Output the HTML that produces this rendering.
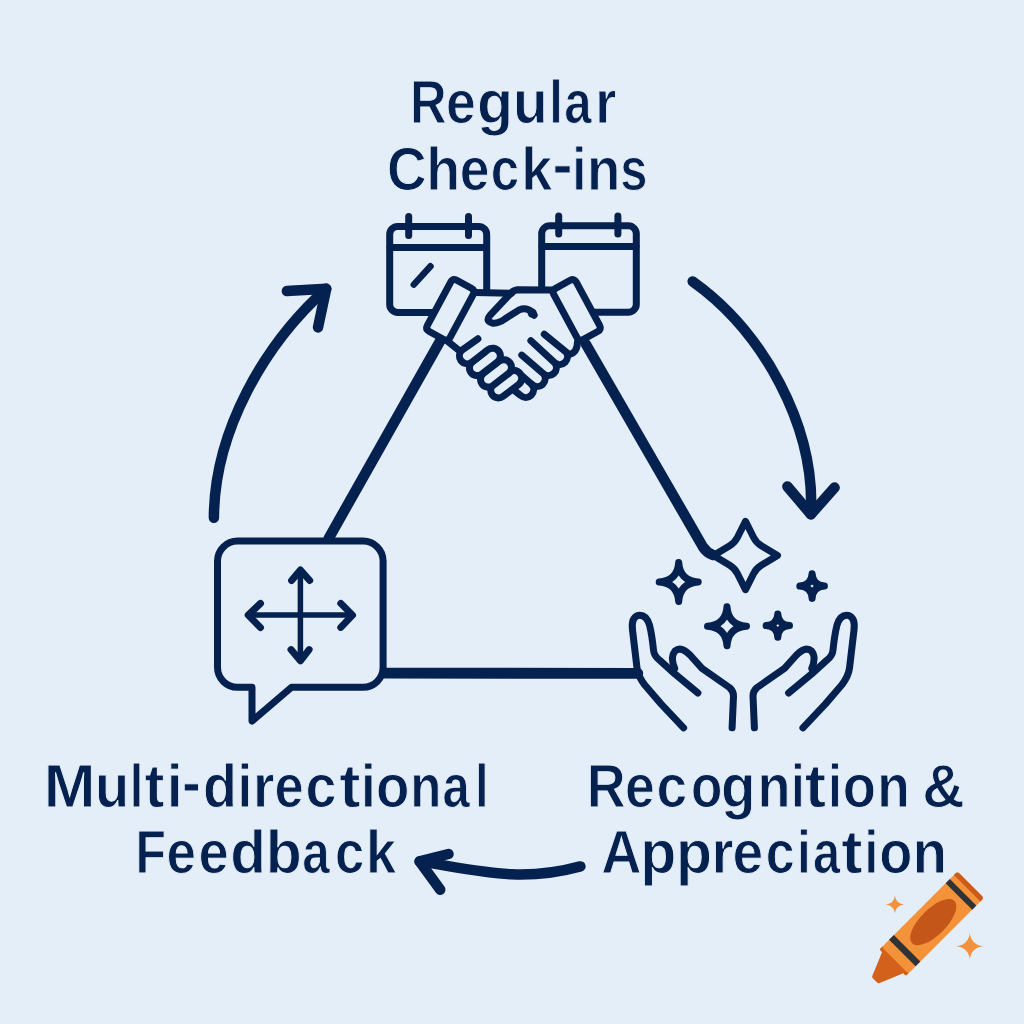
<!DOCTYPE html>
<html>
<head>
<meta charset="utf-8">
<style>
html,body{margin:0;padding:0;width:1024px;height:1024px;overflow:hidden;background:#E4EEF8;}
svg{display:block;}
text{font-family:"Liberation Sans",sans-serif;font-weight:bold;fill:#05214F;stroke:#E4EEF8;stroke-width:1px;}
</style>
</head>
<body>
<svg width="1024" height="1024" viewBox="0 0 1024 1024">
<rect width="1024" height="1024" fill="#E4EEF8"/>
<g fill="none" stroke="#05214F" stroke-linecap="round" stroke-linejoin="round">
  <!-- calendars -->
  <g stroke-width="7">
    <rect x="389.7" y="226.4" width="97" height="86" rx="8"/>
    <line x1="390" y1="247.6" x2="486" y2="247.6"/>
    <line x1="408.7" y1="216.5" x2="408.7" y2="235.5" stroke-width="7"/>
    <line x1="468.5" y1="216.5" x2="468.5" y2="235.5" stroke-width="7"/>
    <line x1="413.8" y1="284.6" x2="430.5" y2="266.3" stroke-width="6.5"/>
    <rect x="541.7" y="225.8" width="94.6" height="86.4" rx="8"/>
    <line x1="542" y1="246.6" x2="636" y2="246.6"/>
    <line x1="558.7" y1="216" x2="558.7" y2="234" stroke-width="7"/>
    <line x1="617.9" y1="216" x2="617.9" y2="234" stroke-width="7"/>
  </g>

  <!-- triangle lines -->
  <line x1="441.5" y1="338.6" x2="328.7" y2="538.3" stroke-width="10.5"/>
  <path d="M585.8,344 L703,547 Q707,553 713,555" stroke-width="10.5"/>
  <line x1="383" y1="673.2" x2="637.8" y2="673.3" stroke-width="10.8"/>

  <!-- handshake -->
  <g stroke-width="7" fill="#E4EEF8">
    <path d="M475.4,291 L551.6,291 L579.1,341.6 L570,362 L540,396 L505,398 L447.9,341.6 Z" stroke="none"/>
    <!-- left cuff -->
    <path d="M456.8,280.3 L471.4,288.3 Q475.4,290.4 473.3,294.4 L450.0,337.6 Q447.9,341.6 443.9,339.5 L429.3,331.5 Q425.3,329.4 427.4,325.4 L450.7,282.2 Q452.8,278.2 456.8,280.3 Z"/>
    <!-- right cuff -->
    <path d="M576.3,282.2 L599.6,325.4 Q601.7,329.4 597.7,331.5 L583.1,339.5 Q579.1,341.6 577.0,337.6 L553.7,294.4 Q551.6,290.4 555.6,288.3 L570.2,280.3 Q574.2,278.2 576.3,282.2 Z"/>
    <!-- top palm line -->
    <path d="M475.4,292.6 L511.5,293.2" fill="none"/>
    <!-- right hand fingers -->
    <path d="M505,383 L520.4,395.3 A7.9,7.9 0 0 0 531.8,384.4" fill="none"/>
    <path d="M516.8,371.4 L531.8,384.4 A7.9,7.9 0 0 0 543.3,373.6 L521.8,355.1 M543.3,373.6 A7.9,7.9 0 0 0 554.8,362.9 L530.9,340.7 M554.8,362.9 A7.9,7.9 0 0 0 566,352 L544.3,334.3 M566,352 C570.5,356.5 577,353 577.5,342" fill="none"/>
    <!-- thumb -->
    <path d="M552,289.9 L517.5,289.7 Q514,290 511,293 L490.2,315.2 Q485,321 492,323 Q498,324 505.2,318.7 L519.2,309.9 Q526,307 531.5,311.6 L534.2,315.2" fill="none"/>
    <circle cx="532.3" cy="313.2" r="4.6" fill="#05214F" stroke="none"/>
    <!-- left hand lower edge -->
    <path d="M447.9,341.6 L458.5,349.9" fill="none"/>
    <!-- left hand fingers (capsules) -->
    <rect x="-17.5" y="-7.75" width="35" height="15.5" rx="7.75" transform="translate(506.2,384.2) rotate(-37.5)"/>
    <rect x="-17.5" y="-7.75" width="35" height="15.5" rx="7.75" transform="translate(496,373.4) rotate(-37.5)"/>
    <rect x="-17.5" y="-7.75" width="35" height="15.5" rx="7.75" transform="translate(484.9,361.9) rotate(-37.5)"/>
    <path d="M477.9,338.8 L462,350.2 A7.75,7.75 0 0 0 471.5,362.4 L485,352" />
  </g>

  <!-- speech bubble -->
  <path d="M237.5,541.1 H363.1 A20,20 0 0 1 383.1,561.1 V667.3 A20,20 0 0 1 363.1,687.3 H291.4 L252,721 V687.3 H237.5 A20,20 0 0 1 217.5,667.3 V561.1 A20,20 0 0 1 237.5,541.1 Z" stroke-width="7" fill="#E4EEF8"/>
  <!-- four-way arrow -->
  <g stroke-width="5.5">
    <line x1="249" y1="615.1" x2="352" y2="615.1"/>
    <line x1="300.4" y1="571" x2="300.4" y2="660"/>
  </g>
  <g stroke-width="7">
    <polyline points="260.5,603.4 248.2,615.1 260.5,627.6"/>
    <polyline points="340.8,603.4 352.5,615.1 340.8,627.4"/>
    <polyline points="291.6,580.5 300.4,570 309.7,580.5"/>
    <polyline points="291,649.6 300.4,660.8 309.1,649.6"/>
  </g>

  <!-- sparkles -->
  <g stroke-width="7">
    <path d="M745.5,521.3 L753.5,537.3 Q756.2,542.7 761.3,545.8 L777.5,555.5 L761.3,565.2 Q756.2,568.3 753.5,573.7 L745.5,589.7 L737.5,573.7 Q734.8,568.3 729.7,565.2 L713.5,555.5 L729.7,545.8 Q734.8,542.7 737.5,537.3 L745.5,521.3 Z"/>
    <path d="M678.7,562.5 Q679.9,580.8 698.2,582.0 Q679.9,583.2 678.7,601.5 Q677.5,583.2 659.2,582.0 Q677.5,580.8 678.7,562.5 Z"/>
    <path d="M812.1,573.8 Q812.7,585.5 824.4,586.1 Q812.7,586.7 812.1,598.4 Q811.5,586.7 799.8,586.1 Q811.5,585.5 812.1,573.8 Z"/>
    <path d="M727.0,606.8 Q728.2,625.1 746.5,626.3 Q728.2,627.5 727.0,645.8 Q725.8,627.5 707.5,626.3 Q725.8,625.1 727.0,606.8 Z"/>
    <path d="M777.8,613.9 Q778.4,625.0 789.5,625.6 Q778.4,626.2 777.8,637.3 Q777.2,626.2 766.1,625.6 Q777.2,625.0 777.8,613.9 Z"/>
  </g>
  <!-- hands -->
  <g stroke-width="7">
    <path d="M683.6,727.8 L661,703.9 L644.6,684.8 Q638,676 637,668 L632.5,630 Q631,618 637.8,615.5 Q646,614 649.5,625 Q652,635 653.5,650 Q654,656 659.6,660.2 L674.7,673.8 L697.9,693"/>
    <path d="M674.7,668.4 Q670,657 675,651 Q681,646 690,655 L702,668.4 L729.4,687.5 Q733.5,691 733.5,696 L732.1,727.8"/>
  </g>
  <g stroke-width="7" transform="translate(1486.5,0) scale(-1,1)">
    <path d="M683.6,727.8 L661,703.9 L644.6,684.8 Q638,676 637,668 L632.5,630 Q631,618 637.8,615.5 Q646,614 649.5,625 Q652,635 653.5,650 Q654,656 659.6,660.2 L674.7,673.8 L697.9,693"/>
    <path d="M674.7,668.4 Q670,657 675,651 Q681,646 690,655 L702,668.4 L729.4,687.5 Q733.5,691 733.5,696 L732.1,727.8"/>
  </g>

  <!-- curved arrows -->
  <path d="M213.9,517.7 C214.2,432.2 263.6,344.7 326.2,288.8" stroke-width="10.5"/>
  <polyline points="286.9,291.1 326.2,288.8 318,327.4" stroke-width="10.5"/>
  <path d="M692.7,281.4 C762.8,331.4 815.5,426.0 810.9,514.3" stroke-width="10.5"/>
  <polyline points="787.4,486.5 810.9,514.3 834.6,487.6" stroke-width="10.5"/>
  <path d="M580.4,866.4 C520.3,882.9 479.1,870.7 419.6,861.4" stroke-width="10.5"/>
  <polyline points="448.5,854 419.6,861.4 440.2,889.7" stroke-width="10.5"/>
</g>

<!-- crayon -->
<g transform="translate(933.3,922.1) rotate(-45)">
  <path d="M-53,-18.75 L-56.5,-18.75 Q-57.5,-18.75 -57.5,-16.5 L-57.5,-15 L-81,-5.2 Q-82.5,-4.6 -82.5,-3 L-82.5,3 Q-82.5,4.6 -81,5.2 L-57.5,15 L-57.5,16.5 Q-57.5,18.75 -56.5,18.75 L-53,18.75 Z" fill="#D3611C"/>
  <rect x="-54" y="-18.75" width="107" height="37.5" rx="3" fill="#F4923A"/>
  <path d="M47.9,-18.75 H50 Q52.8,-18.75 52.8,-15.95 V15.95 Q52.8,18.75 50,18.75 H47.9 Z" fill="#CC5A1A"/>
  <rect x="36.3" y="-18.75" width="5.8" height="37.5" fill="#2F3338"/>
  <rect x="-43.8" y="-18.75" width="6.7" height="37.5" fill="#2F3338"/>
  <ellipse cx="0" cy="0" rx="30" ry="13" fill="#C4561A"/>
</g>
<g fill="#F2923C">
  <path d="M894.9,895.4 Q895.8,903.5 903.9,904.4 Q895.8,905.3 894.9,913.4 Q894.0,905.3 885.9,904.4 Q894.0,903.5 894.9,895.4 Z"/>
  <path d="M969.8,933.0 Q971.2,944.9 983.4,946.2 Q971.2,947.5 969.8,959.4 Q968.4,947.5 956.2,946.2 Q968.4,944.9 969.8,933.0 Z"/>
</g>

<g font-size="61"><text transform="translate(409.9,123.0) scale(0.832,1)">R</text><text transform="translate(446.0,123.0) scale(0.877,1)">e</text><text transform="translate(477.1,123.0) scale(0.967,1)">g</text><text transform="translate(513.0,123.0) scale(0.931,1)">u</text><text transform="translate(549.2,123.0) scale(0.800,1)">l</text><text transform="translate(564.3,123.0) scale(0.806,1)">a</text><text transform="translate(595.2,123.0) scale(0.889,1)">r</text></g>
<g font-size="61"><text transform="translate(386.9,189.5) scale(0.897,1)">C</text><text transform="translate(426.2,189.5) scale(0.910,1)">h</text><text transform="translate(459.7,189.5) scale(0.877,1)">e</text><text transform="translate(490.7,189.5) scale(0.837,1)">c</text><text transform="translate(521.3,189.5) scale(0.913,1)">k</text><text transform="translate(552.4,185.1) scale(0.988,1)">-</text><text transform="translate(572.3,189.5) scale(0.833,1)">i</text><text transform="translate(587.1,189.5) scale(0.893,1)">n</text><text transform="translate(620.2,189.5) scale(0.800,1)">s</text></g>
<g font-size="61"><text transform="translate(43.7,807.2) scale(1.019,1)">M</text><text transform="translate(94.9,807.2) scale(0.917,1)">u</text><text transform="translate(129.7,807.2) scale(0.800,1)">l</text><text transform="translate(144.5,807.2) scale(0.984,1)">t</text><text transform="translate(166.7,807.2) scale(0.944,1)">i</text><text transform="translate(182.0,802.8) scale(0.928,1)">-</text><text transform="translate(203.1,807.2) scale(0.910,1)">d</text><text transform="translate(237.4,807.2) scale(0.872,1)">i</text><text transform="translate(253.0,807.2) scale(0.903,1)">r</text><text transform="translate(274.4,807.2) scale(0.860,1)">e</text><text transform="translate(305.5,807.2) scale(0.913,1)">c</text><text transform="translate(339.3,807.2) scale(1.050,1)">t</text><text transform="translate(360.9,807.2) scale(0.867,1)">i</text><text transform="translate(375.9,807.2) scale(0.897,1)">o</text><text transform="translate(410.3,807.2) scale(0.834,1)">n</text><text transform="translate(442.5,807.2) scale(0.803,1)">a</text><text transform="translate(475.1,807.2) scale(0.800,1)">l</text></g>
<g font-size="61"><text transform="translate(135.6,872.7) scale(0.816,1)">F</text><text transform="translate(166.6,872.7) scale(0.867,1)">e</text><text transform="translate(198.6,872.7) scale(0.890,1)">e</text><text transform="translate(230.3,872.7) scale(0.957,1)">d</text><text transform="translate(265.7,872.7) scale(0.968,1)">b</text><text transform="translate(302.2,872.7) scale(0.809,1)">a</text><text transform="translate(334.9,872.7) scale(0.863,1)">c</text><text transform="translate(365.9,872.7) scale(0.887,1)">k</text></g>
<g font-size="61"><text transform="translate(586.8,807.2) scale(0.884,1)">R</text><text transform="translate(625.1,807.2) scale(0.877,1)">e</text><text transform="translate(656.6,807.2) scale(0.903,1)">c</text><text transform="translate(691.1,807.2) scale(0.842,1)">o</text><text transform="translate(721.0,807.2) scale(0.927,1)">g</text><text transform="translate(757.6,807.2) scale(0.886,1)">n</text><text transform="translate(790.9,807.2) scale(0.811,1)">i</text><text transform="translate(804.7,807.2) scale(1.050,1)">t</text><text transform="translate(828.1,807.2) scale(0.822,1)">i</text><text transform="translate(842.8,807.2) scale(0.891,1)">o</text><text transform="translate(877.3,807.2) scale(0.872,1)">n</text><text transform="translate(922.3,807.2) scale(0.964,1)">&amp;</text></g>
<g font-size="61"><text transform="translate(601.3,873.0) scale(0.915,1)">A</text><text transform="translate(640.2,873.0) scale(0.968,1)">p</text><text transform="translate(676.1,873.0) scale(0.968,1)">p</text><text transform="translate(711.4,873.0) scale(0.926,1)">r</text><text transform="translate(732.6,873.0) scale(0.903,1)">e</text><text transform="translate(765.7,873.0) scale(0.853,1)">c</text><text transform="translate(797.1,873.0) scale(0.811,1)">i</text><text transform="translate(813.1,873.0) scale(0.800,1)">a</text><text transform="translate(841.3,873.0) scale(1.050,1)">t</text><text transform="translate(864.5,873.0) scale(0.811,1)">i</text><text transform="translate(879.2,873.0) scale(0.888,1)">o</text><text transform="translate(912.5,873.0) scale(0.928,1)">n</text></g>
</svg>
</body>
</html>
